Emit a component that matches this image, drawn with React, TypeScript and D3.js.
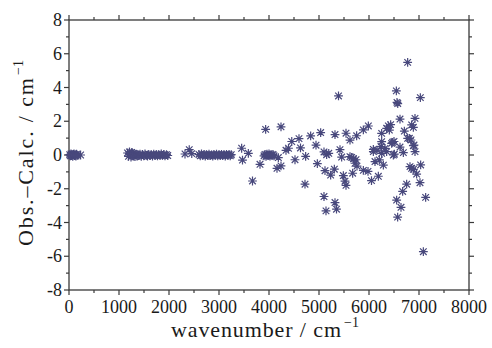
import React from "react";
import * as d3 from "d3";

// residuals (obs - calc) grouped by spectral region, [wavenumber, residual]
const farIrBand: [number, number][] = [
  [15, 0.02], [28, -0.05], [40, 0.06], [52, -0.03], [63, 0.04], [75, -0.08], [88, 0.03],
  [100, 0.07], [112, -0.04], [125, 0.02], [138, -0.06], [150, 0.05], [165, -0.02], [232, 0.0],
];

const fundamentalBand: [number, number][] = [
  [1170, 0.12], [1190, -0.08], [1210, 0.18], [1225, 0.05], [1240, -0.12], [1255, 0.15],
  [1270, 0.08], [1285, -0.05], [1300, 0.1], [1320, -0.1], [1340, 0.04], [1360, -0.06],
  [1380, 0.02], [1400, -0.03], [1420, 0.05], [1445, -0.08], [1470, 0.03], [1495, -0.05],
  [1520, 0.06], [1545, -0.02], [1570, -0.07], [1595, 0.04], [1620, -0.04], [1645, 0.02],
  [1670, -0.06], [1695, 0.05], [1720, -0.03], [1745, 0.03], [1770, -0.05], [1795, 0.02],
  [1820, -0.04], [1845, 0.06], [1870, -0.02], [1895, 0.03], [1920, -0.05], [1950, 0.02],
  [1975, -0.03], [2320, 0.06], [2405, 0.32], [2455, 0.08],
];

const stretchBand: [number, number][] = [
  [2600, 0.03], [2625, -0.05], [2650, 0.06], [2675, -0.02], [2700, 0.04], [2725, -0.06],
  [2750, 0.02], [2775, -0.03], [2800, 0.05], [2825, -0.04], [2850, 0.01], [2875, -0.06],
  [2900, 0.03], [2925, -0.02], [2950, 0.05], [2975, -0.05], [3000, 0.02], [3025, -0.03],
  [3050, 0.04], [3075, -0.04], [3100, 0.02], [3125, -0.06], [3150, 0.04], [3175, -0.02],
  [3200, 0.03], [3225, -0.05], [3245, 0.02],
];

const overtoneBand: [number, number][] = [
  [3900, -0.05], [3920, 0.03], [3940, -0.08], [3960, 0.05], [3980, -0.03], [4000, 0.06],
  [4020, -0.06], [4040, 0.02], [4060, -0.04], [4080, 0.03], [4100, -0.05],
];

const combinationBand: [number, number][] = [
  [3453, 0.4], [3587, 0.1], [3470, -0.3], [3820, -0.55], [3670, -1.54], [3933, 1.52],
  [4240, 1.67], [4160, -0.79], [4240, -0.65], [4187, -0.15], [4340, 0.28], [4390, 0.4],
  [4455, 0.8], [4520, -0.28], [4600, 0.97], [4630, 0.42], [4733, -0.08], [4720, -1.73],
  [4833, 1.13], [5033, 1.33], [4940, 0.58], [4967, -0.51], [5100, 0.18], [5153, 0.02],
  [5195, 0.1], [5120, -0.93], [5233, -1.19], [5307, -0.84], [5320, 1.21], [5420, 0.32],
  [5453, -0.12], [5540, 1.29], [5620, 0.88], [5487, -1.22], [5520, -1.55], [5540, -1.8],
  [5390, 3.5], [5100, -2.46], [5320, -2.82], [5140, -3.31], [5350, -3.21], [5653, -0.14],
  [5690, -0.22], [5740, -0.28], [5720, -0.49], [5760, -0.66], [5620, -0.1], [5673, -1.08],
  [5753, 1.14], [5887, 1.49], [5987, 1.72], [5887, -0.91], [5980, -0.97], [6050, -1.52],
  [6187, -1.26], [6087, 0.33], [6087, 0.2], [6160, 0.29], [6120, -0.39], [6207, -0.29],
  [6287, -0.6], [6253, 0.1], [6240, 0.5], [6253, 0.79], [6253, 1.28], [6353, 0.2],
  [6320, 0.39], [6353, 1.58], [6387, 1.72], [6407, 1.48], [6433, 1.8], [6453, 0.69],
  [6473, 0.75], [6500, 0.8], [6487, 0.0], [6507, 0.05], [6547, 3.8], [6560, 3.12],
  [6575, 3.05], [6553, -2.67], [6573, -3.68], [6640, -3.1], [6673, -2.16], [6620, 2.13],
  [6620, 0.47], [6687, 0.14], [6707, 1.42], [6753, -1.73], [6773, 5.49], [6773, 0.99],
  [6807, 0.99], [6840, 0.89], [6853, 1.78], [6887, 1.64], [6887, 0.55], [6900, 0.59],
  [6920, 0.2], [6920, 2.17], [6820, -0.69], [6853, -0.79], [6887, -0.85], [6953, -1.13],
  [7020, -1.64], [7033, -0.59], [7027, 3.4], [7133, -2.51], [7087, -5.73],
];

const xMajorTicks = [0, 1000, 2000, 3000, 4000, 5000, 6000, 7000, 8000];
const yMajorTicks = [-8, -6, -4, -2, 0, 2, 4, 6, 8];

const W = 492;
const H = 348;
const margin = { top: 20, right: 23, bottom: 58, left: 69 };
const font = '"Liberation Serif"';
const markerColor = "#48487c";
const axisColor = "#3a3a3a";
const textColor = "#1a1a1a";

const x = d3.scaleLinear().domain([0, 8000]).range([margin.left, W - margin.right]);
const y = d3.scaleLinear().domain([-8, 8]).range([H - margin.bottom, margin.top]);
const xMinor = d3.range(500, 8000, 1000);
const yMinor = d3.range(-7, 8, 2);

const r = 4.4;
const k = r * 0.75;
const star = `M0,${-r}V${r}M${-r},0H${r}M${-k},${-k}L${k},${k}M${-k},${k}L${k},${-k}`;

const fmt = (d: number) => (d < 0 ? `-${Math.abs(d)}` : `${d}`);

const App = () => {
  const points = [...farIrBand, ...fundamentalBand, ...stretchBand, ...overtoneBand, ...combinationBand];
  const [x0, x1] = x.range();
  const [y0, y1] = y.range();

  return (
    <svg width={W} height={H} style={{ position: "absolute", left: 0, top: 0, background: "#fff" }}>
      {/* ticks on all four sides, pointing outward */}
      <g stroke={axisColor} strokeWidth={1.2}>
        {xMajorTicks.map((t) => (
          <g key={`xm${t}`}>
            <line x1={x(t)} x2={x(t)} y1={y0} y2={y0 + 5} />
            <line x1={x(t)} x2={x(t)} y1={y1} y2={y1 - 5} />
          </g>
        ))}
        {xMinor.map((t) => (
          <g key={`xn${t}`}>
            <line x1={x(t)} x2={x(t)} y1={y0} y2={y0 + 3} />
            <line x1={x(t)} x2={x(t)} y1={y1} y2={y1 - 3} />
          </g>
        ))}
        {yMajorTicks.map((t) => (
          <g key={`ym${t}`}>
            <line x1={x0} x2={x0 - 5} y1={y(t)} y2={y(t)} />
            <line x1={x1} x2={x1 + 5} y1={y(t)} y2={y(t)} />
          </g>
        ))}
        {yMinor.map((t) => (
          <g key={`yn${t}`}>
            <line x1={x0} x2={x0 - 3} y1={y(t)} y2={y(t)} />
            <line x1={x1} x2={x1 + 3} y1={y(t)} y2={y(t)} />
          </g>
        ))}
      </g>
      <rect x={x0} y={y1} width={x1 - x0} height={y0 - y1} fill="none" stroke={axisColor} strokeWidth={1.3} />

      {/* tick labels */}
      {xMajorTicks.map((t) => (
        <text key={`xl${t}`} x={x(t)} y={y0 + 23} textAnchor="middle" fill={textColor}
          style={{ fontFamily: font, fontSize: 18 }}>
          {fmt(t)}
        </text>
      ))}
      {yMajorTicks.map((t) => (
        <text key={`yl${t}`} x={x0 - 7} y={y(t) + 6} textAnchor="end" fill={textColor}
          style={{ fontFamily: font, fontSize: 18 }}>
          {fmt(t)}
        </text>
      ))}

      {/* data */}
      <g fill="none" stroke={markerColor} strokeWidth={1.2}>
        {points.map((d, i) => (
          <path key={i} transform={`translate(${x(d[0])},${y(d[1])})`} d={star} />
        ))}
      </g>

      {/* axis titles */}
      <text x={171} y={337} fill={textColor} textLength={170} lengthAdjust="spacing"
        style={{ fontFamily: font, fontSize: 22 }}>
        wavenumber / cm
      </text>
      <text x={344} y={327} fill={textColor} style={{ fontFamily: font, fontSize: 14 }}>
        {"\u22121"}
      </text>
      <text transform="translate(33,78) rotate(-90)" textAnchor="end" fill={textColor}
        textLength={168} lengthAdjust="spacing" style={{ fontFamily: font, fontSize: 22 }}>
        {"Obs.\u2013Calc. / cm"}
      </text>
      <text transform="translate(23,75) rotate(-90)" fill={textColor}
        style={{ fontFamily: font, fontSize: 14 }}>
        {"\u22121"}
      </text>
    </svg>
  );
};

export default App;
